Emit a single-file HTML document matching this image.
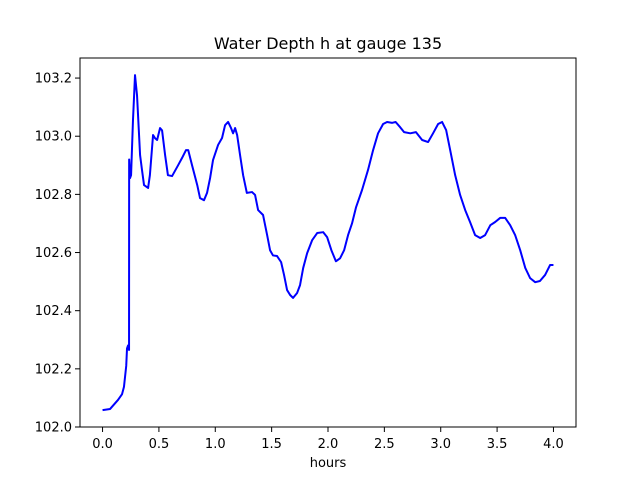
<!DOCTYPE html>
<html><head><meta charset="utf-8"><style>
body{margin:0;background:#fff;}
svg{font-family:"DejaVu Sans","Liberation Sans",sans-serif;}
</style></head><body>
<svg id="chart" width="640" height="480" xmlns="http://www.w3.org/2000/svg"></svg>
<script>
const hours=[0.0,0.067,0.137,0.173,0.19,0.21,0.217,0.226,0.235,0.236,0.244,0.253,0.27,0.288,0.306,0.333,0.35,0.368,0.404,0.42,0.448,0.466,0.484,0.51,0.528,0.555,0.58,0.617,0.67,0.705,0.74,0.76,0.794,0.84,0.865,0.9,0.927,0.954,0.98,1.025,1.06,1.087,1.114,1.14,1.158,1.176,1.194,1.22,1.247,1.28,1.326,1.353,1.38,1.424,1.46,1.486,1.512,1.548,1.584,1.61,1.637,1.664,1.69,1.726,1.752,1.78,1.815,1.86,1.904,1.957,1.992,2.03,2.07,2.107,2.143,2.178,2.213,2.249,2.302,2.355,2.4,2.444,2.489,2.524,2.57,2.6,2.64,2.675,2.73,2.78,2.835,2.888,2.932,2.977,3.012,3.048,3.084,3.128,3.172,3.217,3.26,3.305,3.35,3.394,3.44,3.483,3.527,3.572,3.616,3.66,3.705,3.75,3.793,3.838,3.88,3.926,3.97,4.0];
const depth=[102.058,102.062,102.093,102.113,102.138,102.21,102.27,102.28,102.265,102.92,102.856,102.866,103.055,103.21,103.14,102.935,102.884,102.832,102.822,102.866,103.004,102.993,102.987,103.028,103.02,102.935,102.866,102.863,102.9,102.925,102.952,102.952,102.9,102.832,102.787,102.78,102.805,102.856,102.918,102.97,102.994,103.038,103.049,103.028,103.01,103.028,103.004,102.935,102.866,102.805,102.808,102.798,102.746,102.729,102.66,102.608,102.59,102.588,102.567,102.523,102.471,102.454,102.444,102.461,102.488,102.547,102.598,102.643,102.667,102.67,102.653,102.608,102.57,102.58,102.608,102.66,102.7,102.756,102.815,102.884,102.952,103.01,103.042,103.049,103.046,103.049,103.031,103.014,103.01,103.014,102.987,102.98,103.01,103.042,103.049,103.021,102.952,102.866,102.798,102.746,102.705,102.66,102.65,102.66,102.694,102.705,102.719,102.719,102.694,102.66,102.608,102.547,102.512,102.498,102.502,102.523,102.557,102.557];
const xTicks=[0.0,0.5,1.0,1.5,2.0,2.5,3.0,3.5,4.0];
const yTicks=[102.0,102.2,102.4,102.6,102.8,103.0,103.2];
const L=80,R=576,T=58,B=427;
const xMin=-0.2,xMax=4.2,yMin=102.0,yMax=103.269;
const sx=v=>L+(v-xMin)/(xMax-xMin)*(R-L);
const sy=v=>B-(v-yMin)/(yMax-yMin)*(B-T);
const svg=document.getElementById('chart');
const NS='http://www.w3.org/2000/svg';
function mk(t,a,p){const e=document.createElementNS(NS,t);for(const k in a)e.setAttribute(k,a[k]);(p||svg).appendChild(e);return e;}
let d=hours.map((h,i)=>(i?'L':'M')+sx(h).toFixed(2)+','+sy(depth[i]).toFixed(2)).join('');
const line=mk('path',{d:d,fill:'none',stroke:'#0000ff','stroke-width':2,'stroke-linejoin':'round'});


const frame=mk('rect',{x:L,y:T,width:R-L,height:B-T,fill:'none',stroke:'#000','stroke-width':1});


xTicks.forEach(v=>{const x=sx(v);
 const tk=mk('line',{x1:x,x2:x,y1:B,y2:B+5,stroke:'#000'});
 
 
 const t=mk('text',{x:x,y:B+21,'font-size':13,'text-anchor':'middle'});t.textContent=v.toFixed(1);
 
 });
yTicks.forEach(v=>{const y=sy(v);
 const tk=mk('line',{x1:L-5,x2:L,y1:y,y2:y,stroke:'#000'});
 
 
 const t=mk('text',{x:L-8,y:y+4.5,'font-size':13,'text-anchor':'end'});t.textContent=v.toFixed(1);
 
 });
const xl=mk('text',{x:(L+R)/2,y:B+40,'font-size':13,'text-anchor':'middle'});xl.textContent='hours';


const ti=mk('text',{x:(L+R)/2,y:T-9,'font-size':16,'text-anchor':'middle'});ti.textContent='Water Depth h at gauge 135';


</script>
</body></html>
